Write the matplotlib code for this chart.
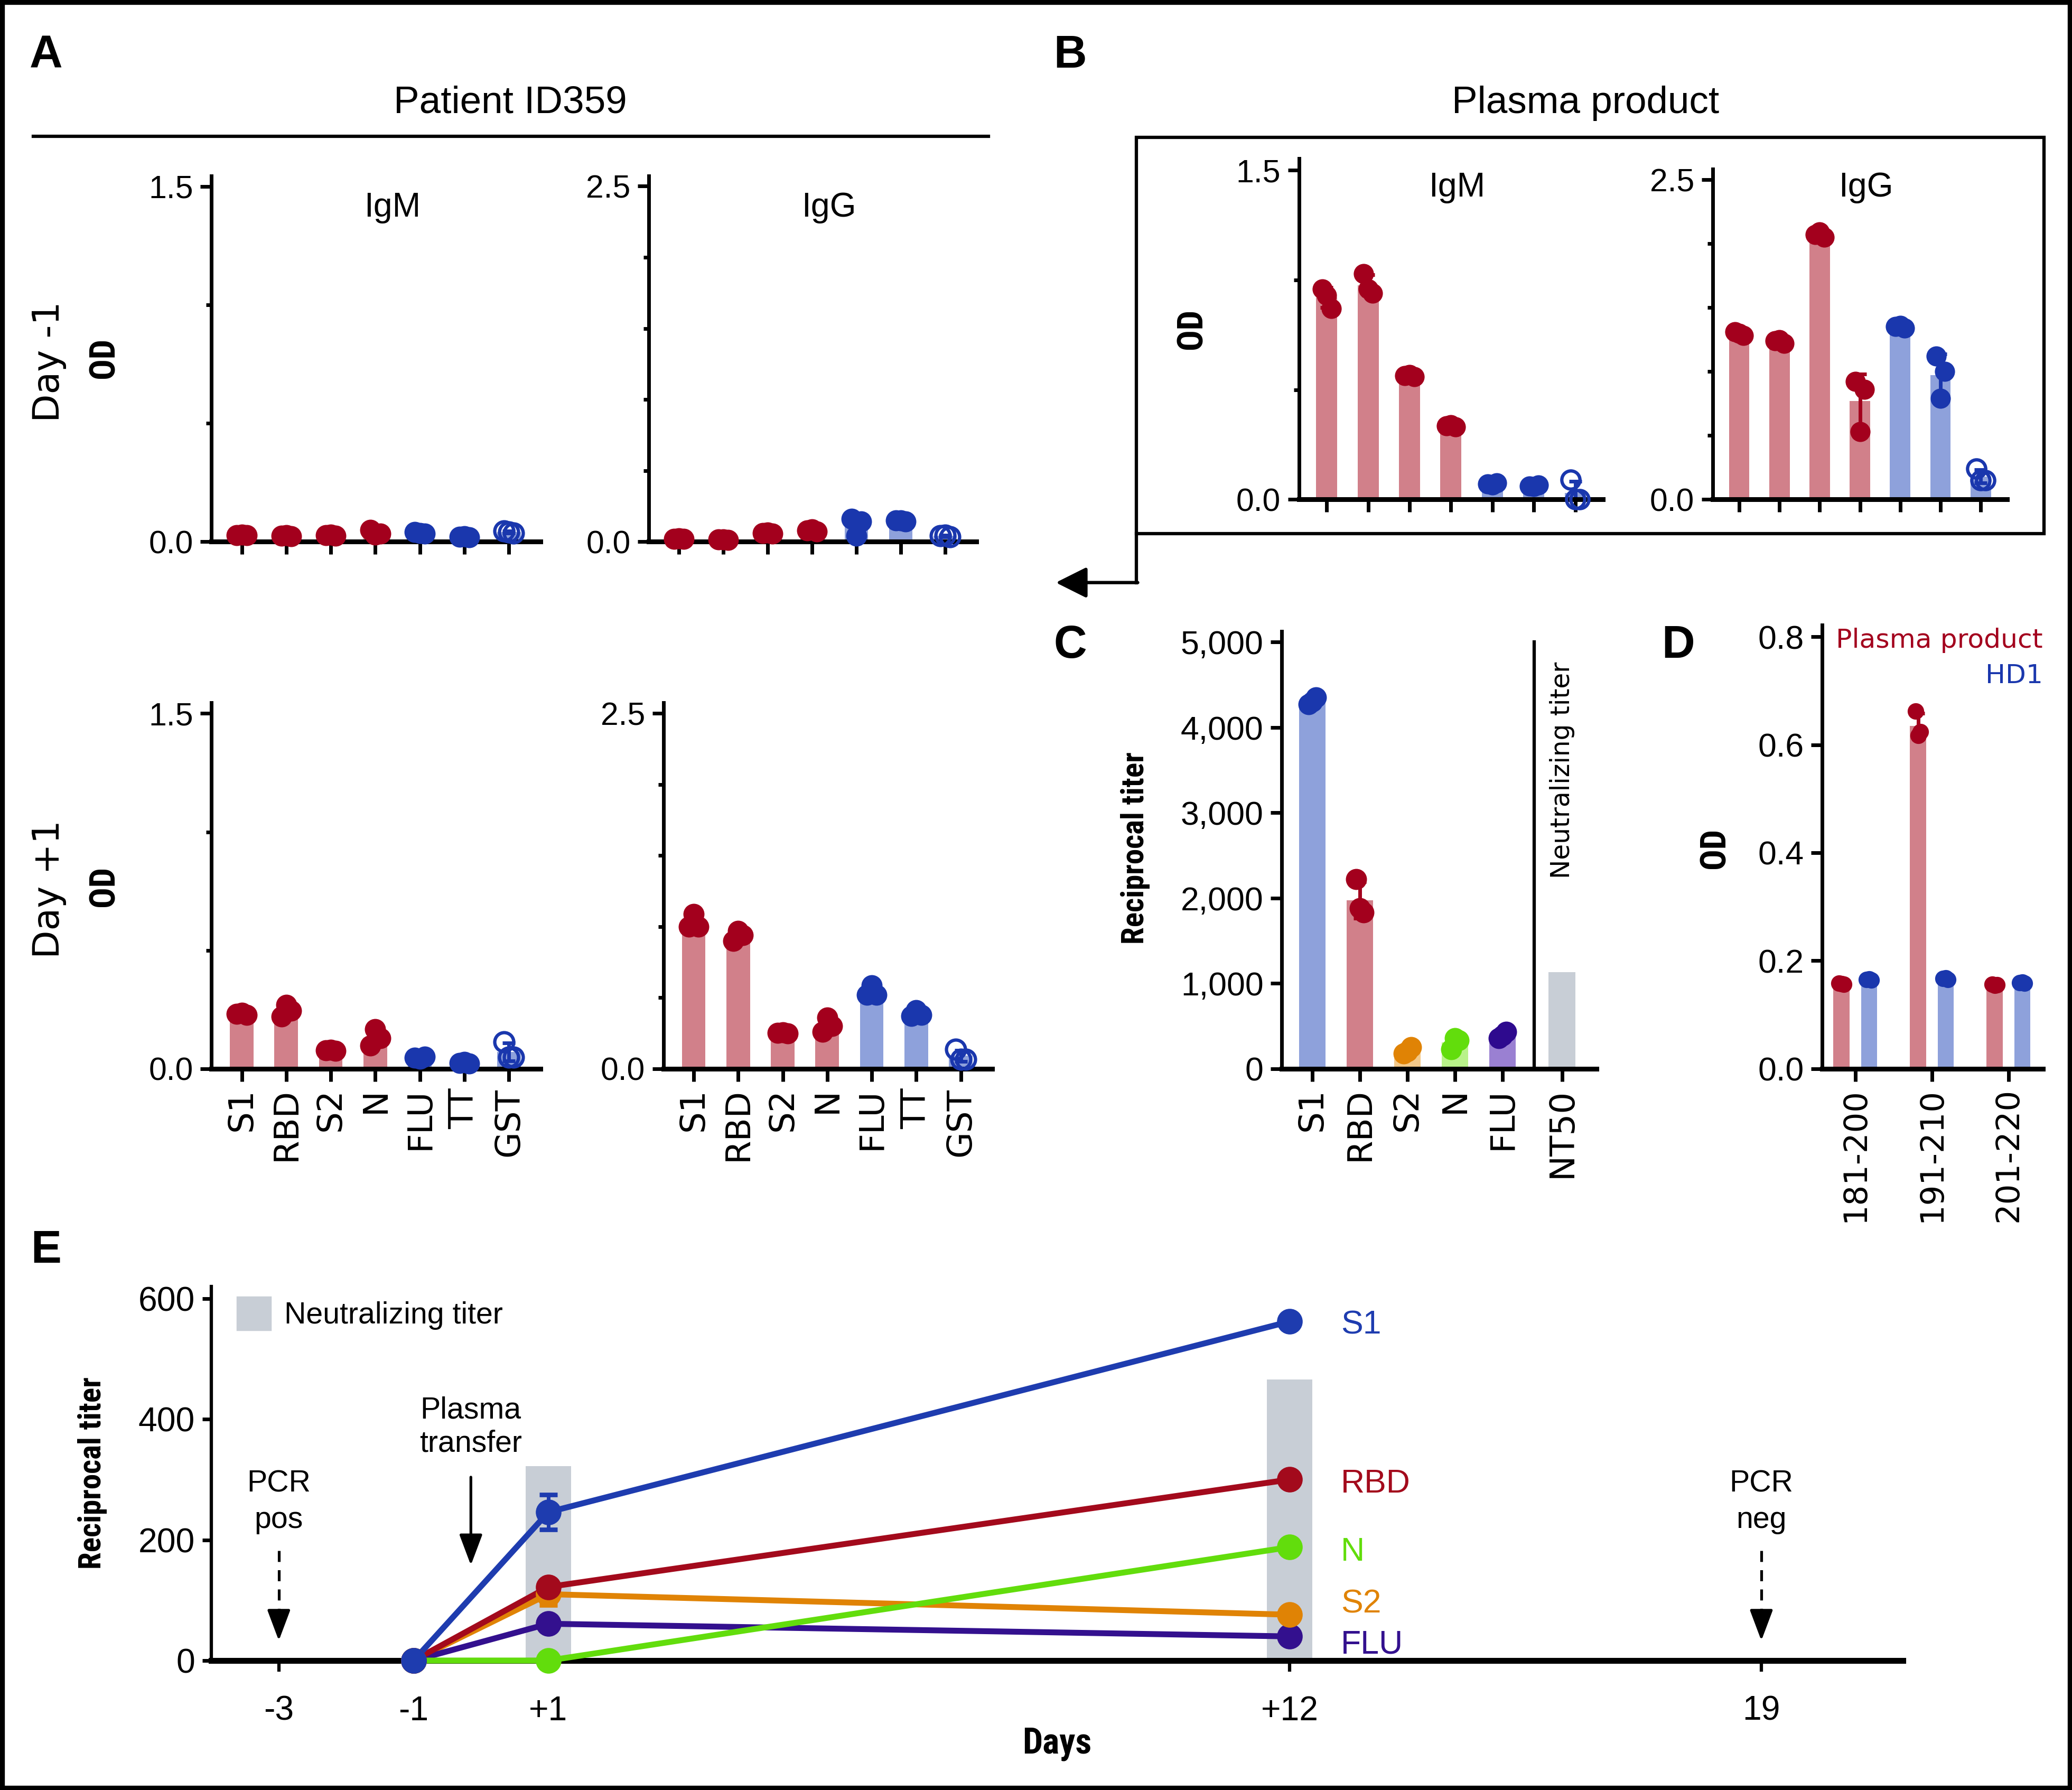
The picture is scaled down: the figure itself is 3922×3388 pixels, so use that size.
import numpy as np
import matplotlib
matplotlib.use('Agg')
import matplotlib.pyplot as plt
from matplotlib import font_manager
from matplotlib.patches import Rectangle, Patch
from matplotlib.lines import Line2D

# ---------------- data ----------------
antigens = ['S1', 'RBD', 'S2', 'N', 'FLU', 'TT', 'GST']

A_dm1_igm = [[0.028, 0.026, 0.030], [0.025, 0.022, 0.027], [0.027, 0.025, 0.030],
             [0.050, 0.033, 0.030], [0.040, 0.033, 0.036], [0.020, 0.018, 0.022],
             [0.045, 0.035, 0.040]]
A_dm1_igg = [[0.020, 0.018, 0.022], [0.015, 0.012, 0.016], [0.060, 0.055, 0.062],
             [0.080, 0.070, 0.085], [0.160, 0.140, 0.040], [0.150, 0.140, 0.150],
             [0.040, 0.035, 0.045]]
A_dp1_igm = [[0.232, 0.228, 0.235], [0.220, 0.245, 0.270], [0.077, 0.075, 0.080],
             [0.098, 0.130, 0.167], [0.046, 0.050, 0.042], [0.025, 0.022, 0.028],
             [0.114, 0.049, 0.049]]
A_dp1_igg = [[1.00, 1.00, 1.09], [0.90, 0.94, 0.97], [0.253, 0.250, 0.257],
             [0.26, 0.30, 0.36], [0.52, 0.52, 0.585], [0.37, 0.38, 0.41],
             [0.136, 0.068, 0.068]]
B_igm = [[0.96, 0.87, 0.93], [1.03, 0.94, 0.96], [0.565, 0.56, 0.57],
         [0.335, 0.33, 0.34], [0.07, 0.075, 0.065], [0.06, 0.065, 0.058],
         [0.09, 0.0, 0.0]]
B_igg = [[1.31, 1.28, 1.30], [1.24, 1.22, 1.25], [2.07, 2.05, 2.09],
         [0.92, 0.86, 0.53], [1.35, 1.34, 1.36], [1.12, 1.00, 0.79],
         [0.24, 0.15, 0.15]]

C_antigens = ['S1', 'RBD', 'S2', 'N', 'FLU']
C_titers = [[4270, 4350, 4300], [2220, 1830, 1880], [180, 250, 200],
            [230, 330, 360], [360, 430, 390]]
C_nt50 = 1130

D_peptides = ['181-200', '191-210', '201-220']
D_plasma = [[0.158, 0.156, 0.157], [0.662, 0.624, 0.617], [0.156, 0.155, 0.154]]
D_hd1 = [[0.165, 0.164, 0.166], [0.167, 0.165, 0.168], [0.159, 0.158, 0.160]]

E_days = [-1, 1, 12]
E_series = ['S1', 'RBD', 'N', 'S2', 'FLU']
E_S1 = [0, 246, 562]
E_RBD = [0, 122, 300]
E_N = [0, 0, 188]
E_S2 = [0, 110, 76]
E_FLU = [0, 61, 40]
E_err_S1 = [0, 29, 0]
E_err_S2 = [0, 18, 0]
E_nt_days = [1, 12]
E_nt_vals = [322, 466]
E_tick_days = [-3, -1, 1, 12, 19]
E_tick_labels = ['-3', '-1', '+1', '+12', '19']

# ---------------- style ----------------
avail = {f.name for f in font_manager.fontManager.ttflist}
SANS = 'Liberation Sans' if 'Liberation Sans' in avail else 'DejaVu Sans'
NARROW = None
for cand in ['Liberation Sans Narrow', 'Roboto Condensed', 'Open Sans Condensed',
             'Noto Sans Condensed', 'Arial Narrow']:
    if cand in avail:
        NARROW = cand
        break
WIDE = 'DejaVu Sans'
plt.rcParams['font.family'] = [SANS, 'DejaVu Sans']


def cond(size, weight='bold'):
    if NARROW:
        return dict(family=NARROW, size=size, weight=weight)
    return dict(family=SANS, size=size * 0.85, weight=weight)


RED_D = '#a3001d'
RED_L = '#d1808a'
BLUE_D = '#1a37ad'
BLUE_L = '#8ea1db'
GRAY = '#c8ced6'
ORANGE_D = '#e08305'
ORANGE_L = '#f3c98a'
GREEN_D = '#62dd0c'
GREEN_L = '#b9f28a'
PURPLE_D = '#2e0a8e'
PURPLE_L = '#9a80d2'

DOT_COL = [RED_D, RED_D, RED_D, RED_D, BLUE_D, BLUE_D, BLUE_D]
BAR_COL = [RED_L, RED_L, RED_L, RED_L, BLUE_L, BLUE_L, BLUE_L]
OPEN = [False, False, False, False, False, False, True]
JIT = [-0.11, 0.11, 0.0]

TICK_FS = 17.5
XLAB_FS = 18.5

W, H = 1568.0, 1355.0
fig = plt.figure(figsize=(15.688, 13.552), dpi=250)


def rect(x0, y0, x1, y1):
    return [x0 / W, 1 - y1 / H, (x1 - x0) / W, (y1 - y0) / H]


def fx(x):
    return x / W


def fy(y):
    return 1 - y / H


def bar_dot(ax, vals, x, bar_cols, dot_cols, opens, width, ms, jit=JIT):
    means = [float(np.mean(v)) for v in vals]
    sds = [float(np.std(v, ddof=1)) for v in vals]
    ax.bar(x, means, width=width, color=bar_cols, zorder=1, linewidth=0)
    for i, v in enumerate(vals):
        dc = dot_cols[i]
        ax.errorbar(x[i], means[i], yerr=sds[i], fmt='none', ecolor=dc,
                    elinewidth=2, capsize=3.5, capthick=2, zorder=2)
        for j, val in enumerate(v):
            if opens[i]:
                ax.plot(x[i] + jit[j], val, 'o', ms=ms * 0.9, mfc='none', mec=dc,
                        mew=1.8, zorder=3, clip_on=False)
            else:
                ax.plot(x[i] + jit[j], val, 'o', ms=ms, mfc=dc, mec=dc, mew=0,
                        zorder=3, clip_on=False)


def style_axes(ax, ymax, ytop, xlim, minor_step):
    ax.set_xlim(*xlim)
    ax.set_ylim(0, ytop)
    for s in ['top', 'right']:
        ax.spines[s].set_visible(False)
    ax.spines['left'].set_linewidth(2)
    ax.spines['bottom'].set_linewidth(2.6)
    ax.set_yticks([0, ymax])
    ax.set_yticklabels(['0.0', f'{ymax:.1f}'])
    ax.set_yticks(np.arange(minor_step, ymax, minor_step), minor=True)
    ax.tick_params(axis='y', which='major', length=6, width=2, labelsize=TICK_FS, pad=4)
    ax.tick_params(axis='y', which='minor', length=3, width=2)
    ax.tick_params(axis='x', length=7, width=2)


def od_panel(r, vals, ymax, ytop, xlim, labels, width=0.53, ms=11.5):
    ax = fig.add_axes(rect(*r))
    x = np.arange(len(vals))
    bar_dot(ax, vals, x, BAR_COL, DOT_COL, OPEN, width, ms)
    style_axes(ax, ymax, ytop, xlim, 0.5)
    ax.set_xticks(x)
    if labels:
        ax.set_xticklabels(antigens, rotation=90, family=WIDE, fontsize=XLAB_FS)
    else:
        ax.set_xticklabels([])
    return ax


# ---------------- Panel A ----------------
xlA = (-0.68, 6.71)
a1 = od_panel((160, 133, 409, 410), A_dm1_igm, 1.5, 1.545, xlA, False)
a2 = od_panel((491, 133, 739, 410), A_dm1_igg, 2.5, 2.574, xlA, False)
a3 = od_panel((160, 532, 409, 809), A_dp1_igm, 1.5, 1.545, xlA, True)
a4 = od_panel((502, 532, 751, 809), A_dp1_igg, 2.5, 2.574, xlA, True)
for ax, t in [(a1, 'IgM'), (a2, 'IgG')]:
    ax.text(0.55, 0.913, t, transform=ax.transAxes, ha='center', va='center', fontsize=18.5)
for ax, yc in [(a1, 0.502), (a3, 0.498)]:
    ax.set_ylabel('OD', **cond(19))
    ax.yaxis.set_label_coords(-0.325, yc)
    ax.yaxis.label.set_va('center')
fig.text(fx(37), fy(274), 'Day -1', rotation=90, ha='center', va='center',
         family=WIDE, fontsize=20)
fig.text(fx(37), fy(673), 'Day +1', rotation=90, ha='center', va='center',
         family=WIDE, fontsize=20)
fig.text(fx(35), fy(42), 'A', ha='center', va='center', fontsize=25, weight='bold')
fig.text(fx(386), fy(78), 'Patient ID359', ha='center', va='center', fontsize=21)
fig.add_artist(Line2D([fx(25), fx(748)], [fy(103), fy(103)], lw=1.8, color='k'))

# ---------------- Panel B ----------------
b1 = od_panel((983, 120, 1213, 378), B_igm, 1.5, 1.554, (-0.67, 6.67), False, width=0.51, ms=11)
b2 = od_panel((1296, 128, 1519, 378), B_igg, 2.5, 2.583, (-0.66, 6.66), False, width=0.51, ms=11)
b1.text(0.52, 0.915, 'IgM', transform=b1.transAxes, ha='center', va='center', fontsize=18.5)
b2.text(0.52, 0.944, 'IgG', transform=b2.transAxes, ha='center', va='center', fontsize=18.5)
b1.set_ylabel('OD', **cond(19))
b1.yaxis.set_label_coords(-0.352, 0.5)
b1.yaxis.label.set_va('center')
fig.text(fx(810), fy(42), 'B', ha='center', va='center', fontsize=25, weight='bold')
fig.text(fx(1200), fy(78), 'Plasma product', ha='center', va='center', fontsize=21)
fig.add_artist(Rectangle((fx(860), fy(404)), fx(1547) - fx(860), fy(104) - fy(404),
                         transform=fig.transFigure, fill=False, lw=1.8, ec='k'))
fig.add_artist(Line2D([fx(860), fx(860)], [fy(404), fy(441)], lw=1.8, color='k'))
fig.add_artist(matplotlib.patches.FancyArrowPatch(
    (fx(861), fy(441)), (fx(799), fy(441)), transform=fig.transFigure,
    arrowstyle='-|>,head_length=0.9,head_width=0.45', mutation_scale=16,
    lw=1.8, color='k', shrinkA=0, shrinkB=0))

# ---------------- Panel C ----------------
axC = fig.add_axes(rect(970, 478, 1208, 809))
xC = np.arange(len(C_antigens))
bar_dot(axC, C_titers, xC, [BLUE_L, RED_L, ORANGE_L, GREEN_L, PURPLE_L],
        [BLUE_D, RED_D, ORANGE_D, GREEN_D, PURPLE_D], [False] * 5, 0.56, 11.5,
        jit=[-0.08, 0.08, 0.0])
nt_x = 5.25
axC.bar([nt_x], [C_nt50], width=0.56, color=GRAY, linewidth=0, zorder=1)
axC.set_xlim(-0.64, 5.97)
axC.set_ylim(0, 5124)
for s in ['top', 'right']:
    axC.spines[s].set_visible(False)
axC.spines['left'].set_linewidth(2)
axC.spines['bottom'].set_linewidth(2.6)
axC.axvline(4.67, ymin=0, ymax=5000 / 5124, color='k', lw=1.8)
axC.set_yticks(np.arange(0, 5001, 1000))
axC.set_yticklabels([f'{v:,}' for v in range(0, 5001, 1000)])
axC.tick_params(axis='y', length=6, width=2, labelsize=TICK_FS + 0.5, pad=4)
axC.tick_params(axis='x', length=7, width=2)
axC.set_xticks(list(xC) + [nt_x])
axC.set_xticklabels(C_antigens + ['NT50'], rotation=90, family=WIDE, fontsize=XLAB_FS)
axC.set_ylabel('Reciprocal titer', **cond(17))
axC.yaxis.set_label_coords(-0.466, 0.505)
axC.yaxis.label.set_va('center')
axC.text(nt_x, 3498, 'Neutralizing titer', rotation=90, ha='center', va='center',
         family=WIDE, fontsize=14)
fig.text(fx(810), fy(489), 'C', ha='center', va='center', fontsize=25, weight='bold')

# ---------------- Panel D ----------------
axD = fig.add_axes(rect(1379, 473, 1546, 809))
xD = np.arange(len(D_peptides))
bar_dot(axD, D_plasma, xD - 0.18, [RED_L] * 3, [RED_D] * 3, [False] * 3, 0.21, 9,
        jit=[-0.03, 0.03, 0.0])
bar_dot(axD, D_hd1, xD + 0.18, [BLUE_L] * 3, [BLUE_D] * 3, [False] * 3, 0.21, 9,
        jit=[-0.03, 0.03, 0.0])
axD.set_xlim(-0.43, 2.45)
axD.set_ylim(0, 0.822)
for s in ['top', 'right']:
    axD.spines[s].set_visible(False)
axD.spines['left'].set_linewidth(2)
axD.spines['bottom'].set_linewidth(2.6)
axD.set_yticks(np.arange(0, 0.81, 0.2))
axD.set_yticklabels([f'{v:.1f}' for v in np.arange(0, 0.81, 0.2)])
axD.tick_params(axis='y', length=6, width=2, labelsize=TICK_FS + 0.5, pad=4)
axD.tick_params(axis='x', length=7, width=2)
axD.set_xticks(xD)
axD.set_xticklabels(D_peptides, rotation=90, family=WIDE, fontsize=17.5)
axD.set_ylabel('OD', **cond(19))
axD.yaxis.set_label_coords(-0.485, 0.497)
axD.yaxis.label.set_va('center')
axD.text(1.0, 0.965, 'Plasma product', color=RED_D, transform=axD.transAxes,
         ha='right', va='center', family=WIDE, fontsize=14.5)
axD.text(1.0, 0.885, 'HD1', color=BLUE_D, transform=axD.transAxes,
         ha='right', va='center', family=WIDE, fontsize=14.5)
fig.text(fx(1270), fy(489), 'D', ha='center', va='center', fontsize=25, weight='bold')

# ---------------- Panel E ----------------
axE = fig.add_axes(rect(160, 974, 1440, 1257))
axE.bar(E_nt_days, E_nt_vals, width=0.68, color=GRAY, linewidth=0, zorder=1)
E_vals = {'S1': E_S1, 'RBD': E_RBD, 'N': E_N, 'S2': E_S2, 'FLU': E_FLU}
E_cols = {'S1': '#1e3caf', 'RBD': '#a30a1c', 'N': GREEN_D, 'S2': ORANGE_D, 'FLU': '#33108e'}
E_label_y = {'S1': 556, 'RBD': 293, 'N': 180, 'S2': 94, 'FLU': 26}
for s in ['S2', 'FLU', 'RBD', 'S1', 'N']:
    axE.plot(E_days, E_vals[s], '-', color=E_cols[s], lw=3.2, zorder=3, clip_on=False)
axE.errorbar(E_days, E_S2, yerr=E_err_S2, fmt='none', ecolor=E_cols['S2'],
             elinewidth=2, capsize=5, capthick=2.5, zorder=3.5)
axE.errorbar(E_days, E_S1, yerr=E_err_S1, fmt='none', ecolor=E_cols['S1'],
             elinewidth=2, capsize=5, capthick=2.5, zorder=3.5)
for s in ['N', 'FLU', 'S2', 'RBD', 'S1']:
    axE.plot(E_days, E_vals[s], 'o', color=E_cols[s], ms=14, mew=0, zorder=4, clip_on=False)
    axE.text(12.76, E_label_y[s], s, color=E_cols[s], ha='left', va='center', fontsize=18)
axE.set_xlim(-4.0, 21.1)
axE.set_ylim(0, 619.7)
for s in ['top', 'right']:
    axE.spines[s].set_visible(False)
axE.spines['left'].set_linewidth(1.8)
axE.spines['bottom'].set_linewidth(3.2)
axE.spines['bottom'].set_zorder(2)
axE.set_yticks([0, 200, 400, 600])
axE.tick_params(axis='y', length=5, width=2, labelsize=TICK_FS + 1, pad=4)
axE.set_xticks(E_tick_days)
axE.set_xticklabels(E_tick_labels)
axE.tick_params(axis='x', length=6, width=1.8, labelsize=TICK_FS + 1, pad=13)
axE.set_xlabel('Days', **cond(19.5))
axE.xaxis.set_label_coords(0.5, -0.223)
axE.xaxis.label.set_va('center')
axE.set_ylabel('Reciprocal titer', **cond(17))
axE.yaxis.set_label_coords(-0.0703, 0.502)
axE.yaxis.label.set_va('center')
axE.legend(handles=[Patch(color=GRAY)], labels=['Neutralizing titer'], loc='upper left',
           bbox_to_anchor=(0.008, 1.005), frameon=False, fontsize=16.5,
           handlelength=1.1, handleheight=1.3, handletextpad=0.45, borderaxespad=0)
# annotations
axE.text(-0.15, 387, 'Plasma\ntransfer', ha='center', va='center', fontsize=16.5,
         linespacing=1.2)
axE.annotate('', xy=(-0.15, 158), xytext=(-0.15, 304),
             arrowprops=dict(arrowstyle='-|>,head_length=0.8,head_width=0.3',
                             mutation_scale=18, lw=1.5, color='k', shrinkA=0, shrinkB=0))
for xd, txt in [(-3, 'PCR\npos'), (19, 'PCR\nneg')]:
    axE.text(xd, 263, txt, ha='center', va='center', fontsize=16.5, linespacing=1.35)
    axE.plot([xd, xd], [182, 55], ls=(0, (4, 3)), color='k', lw=1.5, zorder=3)
    axE.annotate('', xy=(xd, 33), xytext=(xd, 62),
                 arrowprops=dict(arrowstyle='-|>,head_length=0.8,head_width=0.3',
                                 mutation_scale=18, lw=1.5, color='k',
                                 shrinkA=0, shrinkB=0))
fig.text(fx(35), fy(947), 'E', ha='center', va='center', fontsize=25, weight='bold')

# border
fig.add_artist(Rectangle((0, 0), 1, 1, transform=fig.transFigure, fill=False,
                         lw=5, ec='k'))

fig.savefig('out.png', dpi=250)
